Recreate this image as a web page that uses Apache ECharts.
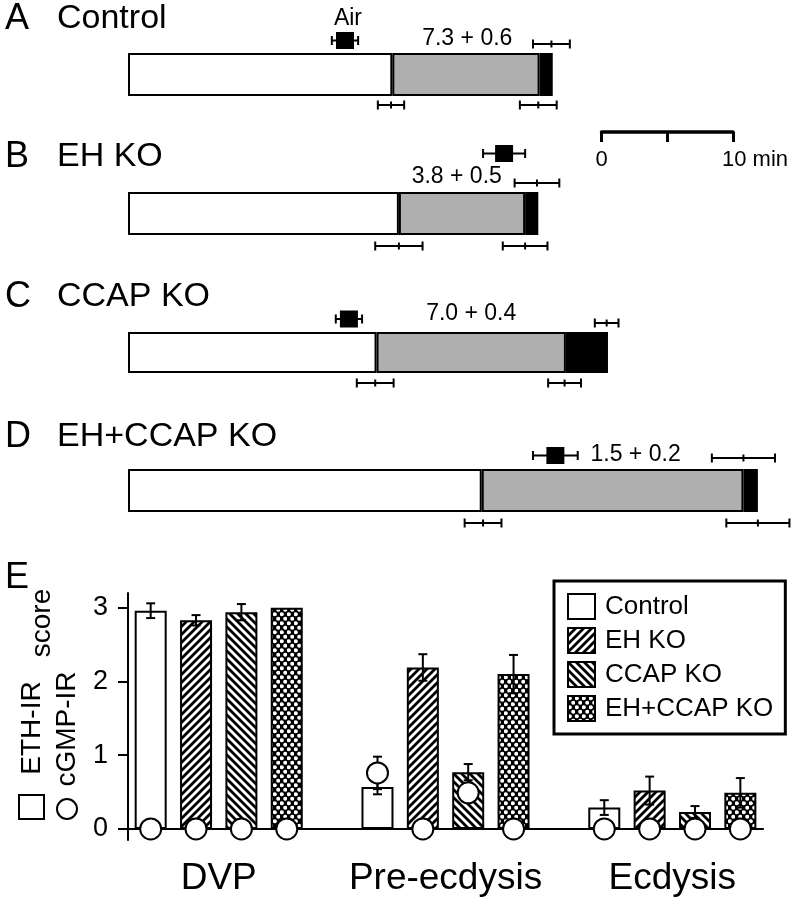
<!DOCTYPE html>
<html><head><meta charset="utf-8">
<script src="https://cdn.jsdelivr.net/npm/echarts@6/dist/echarts.min.js"></script>
<style>html,body{margin:0;padding:0;background:#fff}#c{width:797px;height:900px}</style>
</head><body><div id="c"></div><script>
// ================= DATA =================
// Panels A-D : timelines (minutes from start of bar)
const panelLetters = ['A', 'B', 'C', 'D'];
const genotypes = ['Control', 'EH KO', 'CCAP KO', 'EH+CCAP KO'];
const phaseWhite = [20.1, 20.6, 18.9, 26.9];   // white segment duration
const phaseGray  = [11.2, 9.6, 14.4, 19.9];    // gray segment duration
const phaseBlack = [1.0, 1.0, 3.2, 1.1];       // black segment duration
// error bars: [centre time, half width] (min)
const errBelowFirst  = [[20.0, 1.0], [20.6, 1.8], [18.8, 1.4], [27.0, 1.4]];
const errBelowSecond = [[31.2, 1.4], [30.2, 1.7], [33.2, 1.25], [47.9, 2.4]];
const errAbove       = [[32.2, 1.4], [31.1, 1.7], [36.4, 0.9], [46.8, 2.4]];
const airTime = [16.5, 28.6, 16.8, 32.5];
const airErr  = [1.0, 1.6, 1.0, 1.7];
const airLabel = 'Air';
const durLabels = ['7.3 + 0.6', '3.8 + 0.5', '7.0 + 0.4', '1.5 + 0.2'];
// scale bar
const scaleTicks = [0, 5, 10];
const scaleLabels = { 0: '0', 10: '10 min' };

// Panel E : scores
const phases = ['DVP', 'Pre-ecdysis', 'Ecdysis'];
const ethControl = [2.96, 0.57, 0.29];
const ethEH      = [2.83, 2.19, 0.52];
const ethCCAP    = [2.94, 0.77, 0.23];
const ethBoth    = [3.00, 2.10, 0.49];
const ethControlErr = [0.10, 0.10, 0.10];
const ethEHErr      = [0.07, 0.18, 0.19];
const ethCCAPErr    = [0.11, 0.11, 0.08];
const ethBothErr    = [0.00, 0.26, 0.20];
const cgmpControl = [0, 0.76, 0];
const cgmpEH      = [0, 0, 0];
const cgmpCCAP    = [0, 0.49, 0];
const cgmpBoth    = [0, 0, 0];
const cgmpControlErr = [0, 0.22, 0];
const cgmpEHErr      = [0, 0, 0];
const cgmpCCAPErr    = [0, 0, 0];
const cgmpBothErr    = [0, 0, 0];
const yTicks = [0, 1, 2, 3];

// ================= LAYOUT / STYLE =================
const FONT = "'Liberation Sans', Arial, Helvetica, sans-serif";
const PX_PER_MIN = 13.15;
const X_MAX = 50;
const BAR_LEFT = 128;
const panelTop = [53, 192, 332, 469];
const panelH = [43, 43, 41, 43];
const layout = {
  airDy:   [-34, -60, -33.5, -35],
  aboveDy: [-30.5, -30.5, -29.5, -32.5],
  belowDy: [30.5, 32.5, 30.5, 32.5],
  labelX:  [25.8, 25.0, 26.1, 38.6],
  labelDy: [-35.5, -36.5, -38.5, -35.5],
  titleY:  [19, 157, 297, 437, 578]
};
const GRAY = '#afafaf';

function makePattern(kind) {
  const cv = document.createElement('canvas');
  if (kind === 'dots') {
    const w = 7, h = 9;
    cv.width = w; cv.height = h;
    const g = cv.getContext('2d');
    g.fillStyle = '#000'; g.fillRect(0, 0, w, h);
    g.fillStyle = '#fff';
    [[1.75, 2.25], [5.25, 6.75]].forEach(([x, y]) => { g.beginPath(); g.arc(x, y, 2.1, 0, Math.PI * 2); g.fill(); });
    return { image: cv, repeat: 'repeat' };
  }
  const s = 8;
  cv.width = s; cv.height = s;
  const g = cv.getContext('2d');
  g.fillStyle = '#fff'; g.fillRect(0, 0, s, s);
  g.strokeStyle = '#000'; g.lineWidth = 2.8;
  g.beginPath();
  if (kind === 'fwd') {
    g.moveTo(0, s); g.lineTo(s, 0);
    g.moveTo(-1, 1); g.lineTo(1, -1);
    g.moveTo(s - 1, s + 1); g.lineTo(s + 1, s - 1);
  } else {
    g.moveTo(0, 0); g.lineTo(s, s);
    g.moveTo(-1, s - 1); g.lineTo(1, s + 1);
    g.moveTo(s - 1, -1); g.lineTo(s + 1, 1);
  }
  g.stroke();
  return { image: cv, repeat: 'repeat' };
}
const fills = ['#fff', makePattern('fwd'), makePattern('back'), makePattern('dots')];

const chart = echarts.init(document.getElementById('c'), null, { renderer: 'canvas', width: 797, height: 900 });

// ---------- grids ----------
const grids = [], xAxes = [], yAxes = [], series = [];
panelTop.forEach((t, i) => {
  grids.push({ left: BAR_LEFT, top: t, width: X_MAX * PX_PER_MIN, height: panelH[i] });
  xAxes.push({ type: 'value', gridIndex: i, min: 0, max: X_MAX, show: false });
  yAxes.push({ type: 'category', gridIndex: i, data: [genotypes[i]], show: false });
  const segs = [[phaseWhite, '#fff'], [phaseGray, GRAY], [phaseBlack, '#000']];
  segs.forEach(([arr, col]) => {
    series.push({
      type: 'bar', xAxisIndex: i, yAxisIndex: i, stack: 'p' + i, barWidth: '100%',
      silent: true, z: 2,
      itemStyle: { color: col, borderColor: '#000', borderWidth: 2 },
      data: [arr[i]]
    });
  });
  const items = [
    [airTime[i], 0, airErr[i], 0],
    [errAbove[i][0], 0, errAbove[i][1], 1],
    [errBelowFirst[i][0], 0, errBelowFirst[i][1], 2],
    [errBelowSecond[i][0], 0, errBelowSecond[i][1], 2],
    [layout.labelX[i], 0, 0, 3]
  ];
  if (i === 0) items.push([airTime[i], 0, 0, 4]);
  series.push({
    type: 'custom', xAxisIndex: i, yAxisIndex: i, silent: true, z: 5,
    encode: { x: 0, y: 1 },
    data: items,
    renderItem: function (params, api) {
      const c = api.value(0), half = api.value(2), kind = api.value(3);
      const p = api.coord([c, 0]);
      const cx = p[0], cy = p[1];
      const hw = api.size([half, 0])[0];
      const ls = { stroke: '#000', lineWidth: 2 };
      function hbar(y, capH, tickH) {
        return [
          { type: 'line', shape: { x1: cx - hw, y1: y, x2: cx + hw, y2: y }, style: ls },
          { type: 'line', shape: { x1: cx - hw, y1: y - capH / 2, x2: cx - hw, y2: y + capH / 2 }, style: ls },
          { type: 'line', shape: { x1: cx + hw, y1: y - capH / 2, x2: cx + hw, y2: y + capH / 2 }, style: ls },
          { type: 'line', shape: { x1: cx, y1: y - tickH / 2, x2: cx, y2: y + tickH / 2 }, style: ls }
        ];
      }
      if (kind === 0) {
        const y = cy + layout.airDy[i];
        const ch = hbar(y, 9, 0).slice(0, 3);
        ch.push({ type: 'rect', shape: { x: cx - 9, y: y - 8.5, width: 18, height: 17 }, style: { fill: '#000' } });
        return { type: 'group', children: ch };
      }
      if (kind === 1) return { type: 'group', children: hbar(cy + layout.aboveDy[i], 9, 7) };
      if (kind === 2) return { type: 'group', children: hbar(cy + layout.belowDy[i], 9, 7) };
      if (kind === 3) {
        return { type: 'text', x: cx, y: cy + layout.labelDy[i],
          style: { text: durLabels[i], fontSize: 23, fontFamily: FONT, fill: '#000',
            align: 'center', verticalAlign: 'middle', textAlign: 'center', textVerticalAlign: 'middle' } };
      }
      if (kind === 4) {
        return { type: 'text', x: cx + 3, y: cy + layout.airDy[i] - 22,
          style: { text: airLabel, fontSize: 23, fontFamily: FONT, fill: '#000',
            align: 'center', verticalAlign: 'middle', textAlign: 'center', textVerticalAlign: 'middle' } };
      }
      return null;
    }
  });
});

// ---------- Panel E ----------
const SLOT_W = 45.36;
const cats = [];
for (let p = 0; p < phases.length; p++) {
  genotypes.forEach(g => cats.push(phases[p] + ' / ' + g));
  if (p < phases.length - 1) cats.push('gap' + p);
}
const E = 4;
grids.push({ left: 128, top: 593, width: SLOT_W * cats.length, height: 247 });
xAxes.push({
  type: 'category', gridIndex: E, data: cats,
  axisLine: { lineStyle: { color: '#000', width: 2 } },
  axisTick: { show: false },
  axisLabel: {
    interval: 0, color: '#000', fontSize: 37, fontFamily: FONT, margin: 20,
    padding: [0, 0, 0, SLOT_W],
    formatter: (v, idx) => (idx % 5 === 1 ? phases[Math.floor(idx / 5)] : '')
  }
});
yAxes.push({
  type: 'value', gridIndex: E, min: -0.15, max: 3.2,
  axisLine: { show: true, lineStyle: { color: '#000', width: 2 } },
  axisTick: { show: true, length: 10, customValues: yTicks, lineStyle: { color: '#000', width: 2 } },
  axisLabel: { customValues: yTicks, color: '#000', fontSize: 27, fontFamily: FONT, margin: 20 },
  splitLine: { show: false }
});
const ethAll = [ethControl, ethEH, ethCCAP, ethBoth];
const ethErrAll = [ethControlErr, ethEHErr, ethCCAPErr, ethBothErr];
const cgmpAll = [cgmpControl, cgmpEH, cgmpCCAP, cgmpBoth];
const cgmpErrAll = [cgmpControlErr, cgmpEHErr, cgmpCCAPErr, cgmpBothErr];
const slotOf = (p, g) => p * 5 + g;

function vErrRender(params, api) {
  const x = api.value(0), v = api.value(1), e = api.value(2);
  if (!e) return null;
  const t = api.coord([x, v + e]), b = api.coord([x, v - e]);
  const ls = { stroke: '#000', lineWidth: 2 };
  return { type: 'group', children: [
    { type: 'line', shape: { x1: t[0], y1: t[1], x2: b[0], y2: b[1] }, style: ls },
    { type: 'line', shape: { x1: t[0] - 4.5, y1: t[1], x2: t[0] + 4.5, y2: t[1] }, style: ls },
    { type: 'line', shape: { x1: b[0] - 4.5, y1: b[1], x2: b[0] + 4.5, y2: b[1] }, style: ls }
  ] };
}

genotypes.forEach((g, gi) => {
  series.push({
    name: g, type: 'bar', xAxisIndex: E, yAxisIndex: E, barWidth: 32, barGap: '-100%', z: 2,
    itemStyle: { color: fills[gi], borderColor: '#000', borderWidth: 2 },
    data: phases.map((p, pi) => [slotOf(pi, gi), ethAll[gi][pi]])
  });
});
series.push({
  type: 'custom', xAxisIndex: E, yAxisIndex: E, z: 3, silent: true,
  encode: { x: 0, y: 1 },
  data: genotypes.flatMap((g, gi) => phases.map((p, pi) => [slotOf(pi, gi), ethAll[gi][pi], ethErrAll[gi][pi]])),
  renderItem: vErrRender
});
series.push({
  type: 'custom', xAxisIndex: E, yAxisIndex: E, z: 3, silent: true,
  encode: { x: 0, y: 1 },
  data: genotypes.flatMap((g, gi) => phases.map((p, pi) => [slotOf(pi, gi), cgmpAll[gi][pi], cgmpErrAll[gi][pi]])),
  renderItem: vErrRender
});
series.push({
  type: 'scatter', xAxisIndex: E, yAxisIndex: E, z: 4, silent: true,
  symbol: 'circle', symbolSize: 21,
  itemStyle: { color: '#fff', borderColor: '#000', borderWidth: 2, opacity: 1 },
  data: genotypes.flatMap((g, gi) => phases.map((p, pi) => [slotOf(pi, gi), cgmpAll[gi][pi]]))
});

// ---------- scale bar ----------
const S = 5;
grids.push({ left: 601.5, top: 132, width: 131.5, height: 30 });
xAxes.push({
  type: 'value', gridIndex: S, position: 'top', min: scaleTicks[0], max: scaleTicks[scaleTicks.length - 1],
  interval: scaleTicks[1] - scaleTicks[0],
  axisLine: { onZero: false, lineStyle: { color: '#000', width: 3.5 } },
  axisTick: { inside: true, length: 10, lineStyle: { color: '#000', width: 3 } },
  splitLine: { show: false },
  axisLabel: {
    inside: true, margin: 17, color: '#000', fontSize: 22, fontFamily: FONT,
    formatter: v => scaleLabels[v] !== undefined ? (v === 0 ? '{a|' + scaleLabels[v] + '}' : '{b|' + scaleLabels[v] + '}') : '',
    rich: { a: { fontSize: 22, fontFamily: FONT, color: '#000' }, b: { fontSize: 22, fontFamily: FONT, color: '#000', padding: [0, 0, 0, 44] } }
  }
});
yAxes.push({ type: 'value', gridIndex: S, min: 0, max: 1, show: false });

// ---------- graphic texts ----------
const txt = (x, y, text, size) => ({
  type: 'text', x: x, y: y, silent: true,
  style: { text: text, fontSize: size, fontFamily: FONT, fill: '#000',
    align: 'left', verticalAlign: 'middle', textAlign: 'left', textVerticalAlign: 'middle' }
});
const graphics = [];
panelLetters.concat(['E']).forEach((L, i) => graphics.push(txt(5, layout.titleY[i], L, 36)));
genotypes.forEach((g, i) => graphics.push(txt(57, layout.titleY[i], g, 34)));
const rot = (x, y, text) => ({
  type: 'text', x: x, y: y, rotation: Math.PI / 2, silent: true,
  style: { text: text, fontSize: 28, fontFamily: FONT, fill: '#000',
    align: 'center', verticalAlign: 'middle', textAlign: 'center', textVerticalAlign: 'middle' }
});
graphics.push(rot(32, 728, 'ETH-IR'));
graphics.push(rot(67, 729, 'cGMP-IR'));
graphics.push(rot(42, 623, 'score'));
graphics.push({ type: 'rect', silent: true, shape: { x: 19, y: 795, width: 25, height: 24 }, style: { fill: '#fff', stroke: '#000', lineWidth: 2 } });
graphics.push({ type: 'circle', silent: true, shape: { cx: 67, cy: 809, r: 10 }, style: { fill: '#fff', stroke: '#000', lineWidth: 2 } });

chart.setOption({
  backgroundColor: '#fff',
  animation: false,
  textStyle: { fontFamily: FONT },
  grid: grids,
  xAxis: xAxes,
  yAxis: yAxes,
  legend: {
    data: genotypes, orient: 'vertical', left: 554, top: 581,
    icon: 'rect',
    itemWidth: 27, itemHeight: 25, itemGap: 7,
    padding: [12, 12, 12, 13],
    borderColor: '#000', borderWidth: 3,
    selectedMode: false,
    textStyle: { fontSize: 26, color: '#000', fontFamily: FONT, padding: [0, 0, 0, 5] }
  },
  series: series,
  graphic: graphics
});
</script></body></html>
